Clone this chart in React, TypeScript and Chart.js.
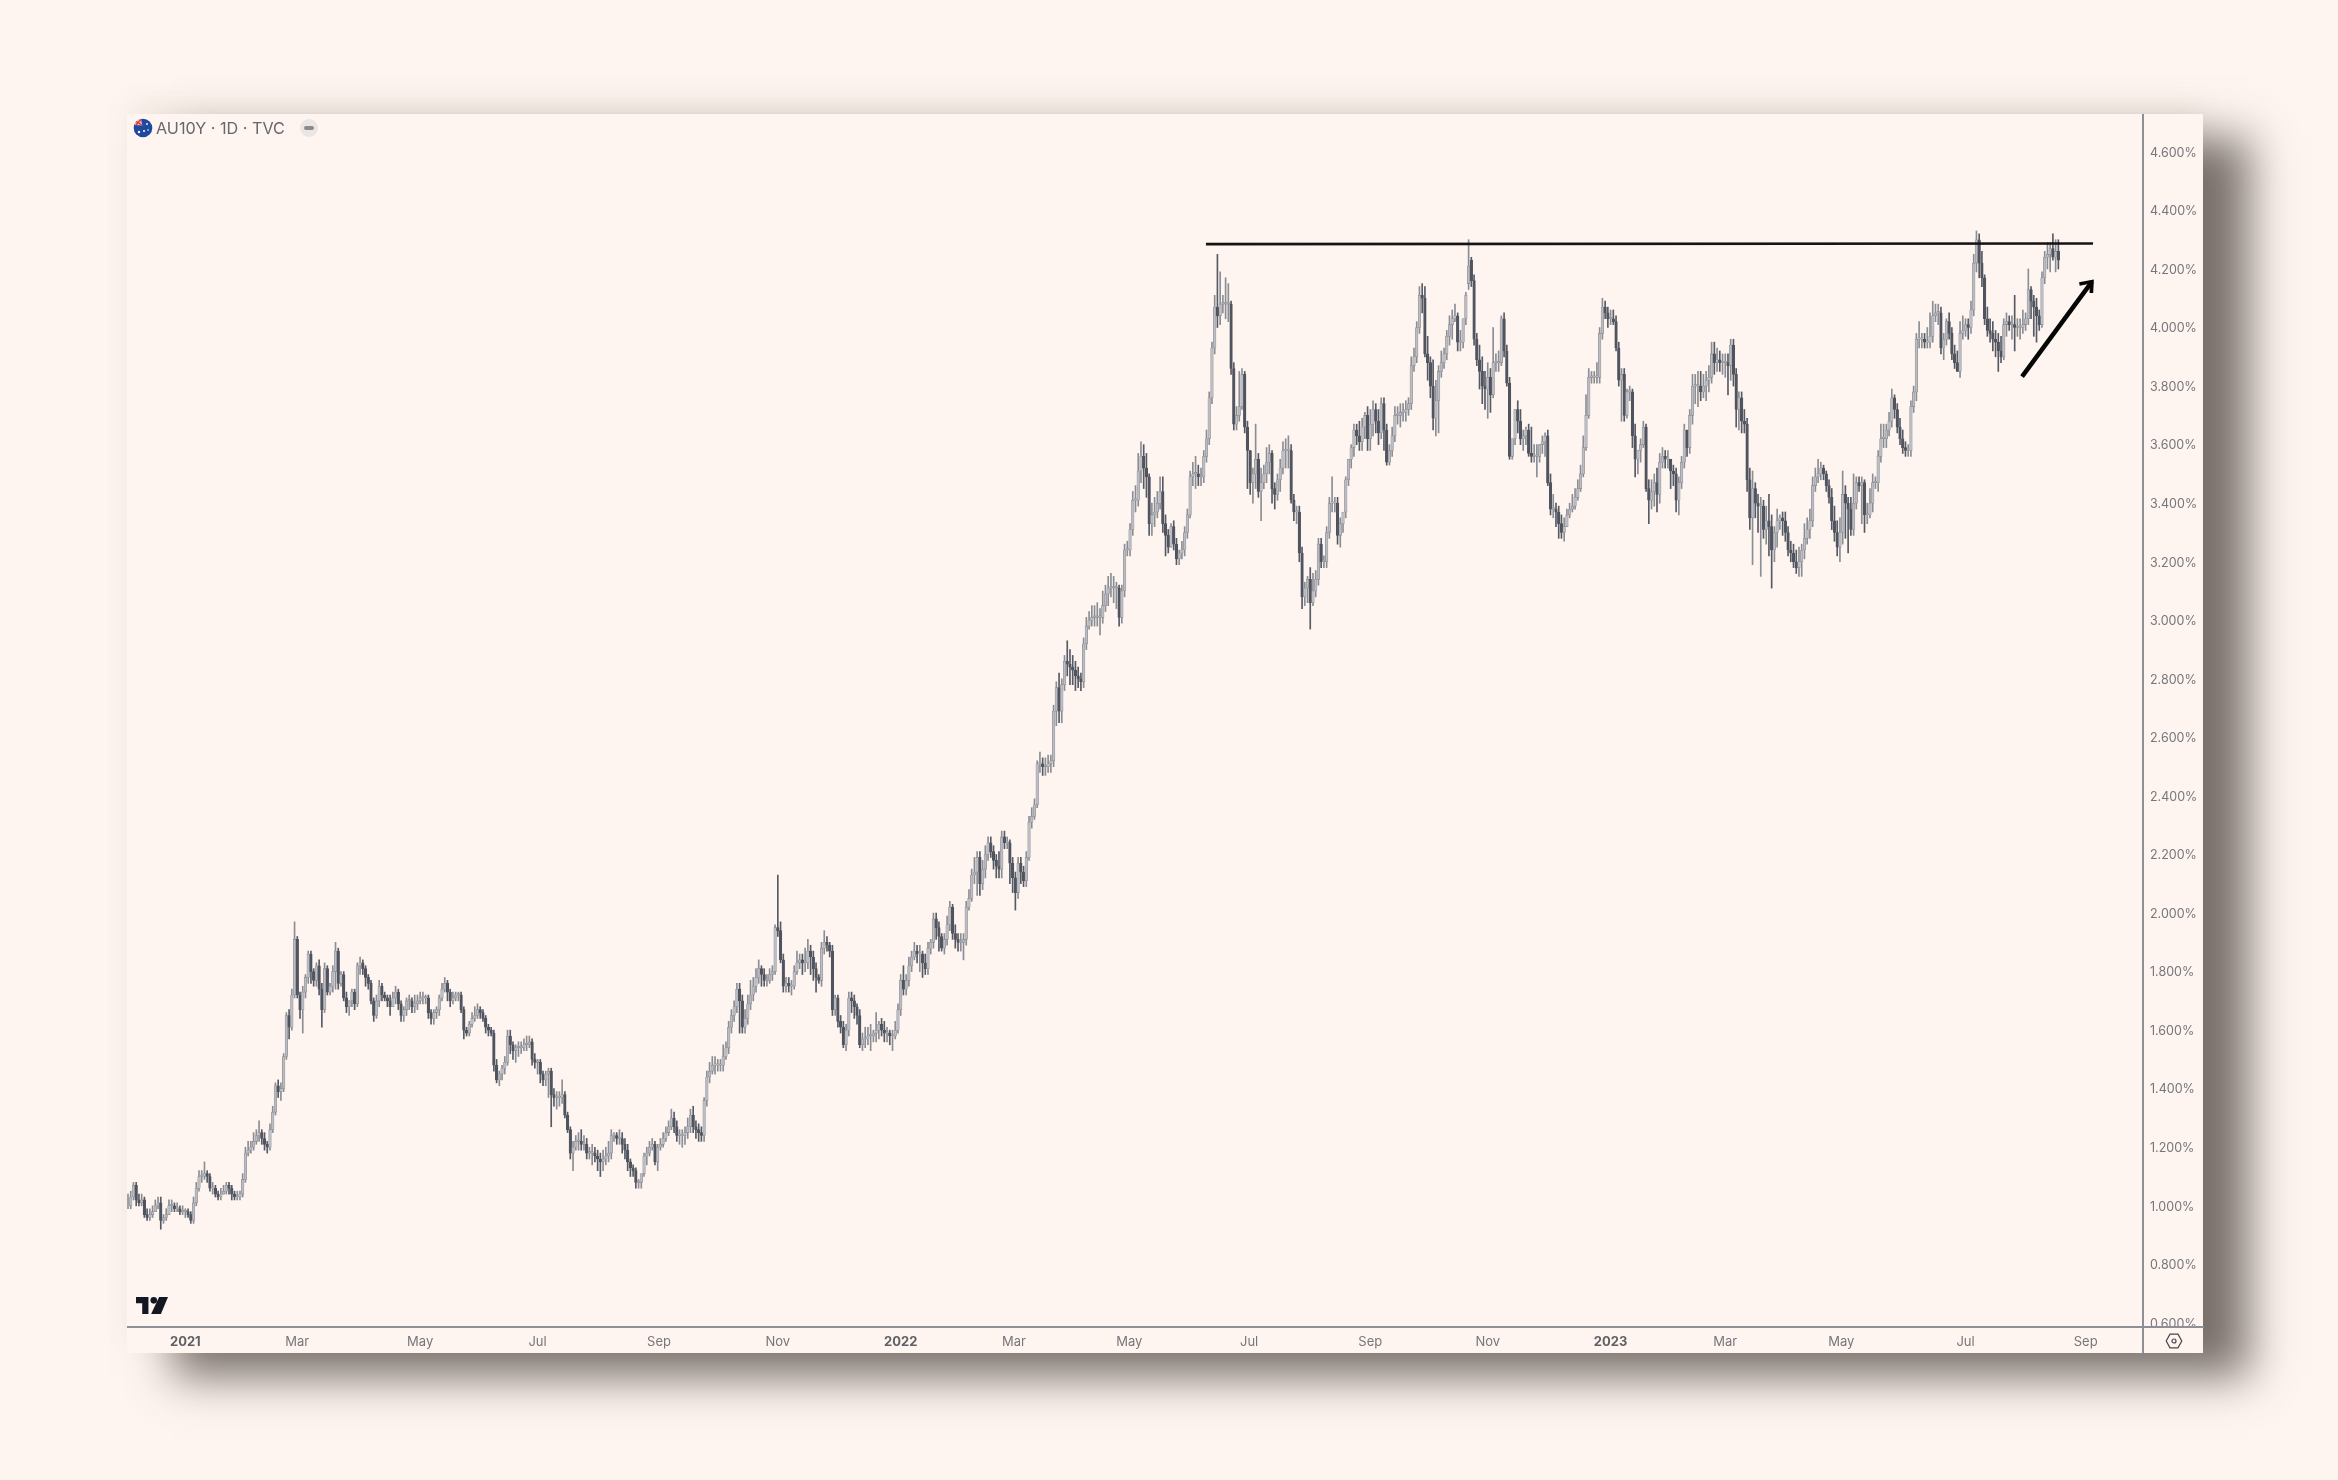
import { useEffect, useRef } from "react";
import { Chart, registerables } from "chart.js";

Chart.register(...registerables);

// AU10Y daily candles, in hundredths of a percent (100 = 1.00%)
const closes = [
100,103,107,102,101,102,97,96,97,98,100,101,95,96,97,100,100,99,99,98,
98,98,97,95,101,106,110,110,111,110,106,106,104,103,104,105,107,106,104,103,
103,104,109,118,119,120,122,124,125,123,121,120,126,132,141,139,140,151,165,161,
172,191,172,167,173,178,186,180,177,182,174,167,181,173,175,180,187,176,179,171,
168,170,173,169,182,183,181,178,176,170,165,170,175,172,171,170,168,171,173,169,
165,167,170,170,168,169,170,171,171,171,166,164,166,167,171,174,176,173,170,171,
172,172,167,160,159,162,164,165,167,166,164,161,160,159,148,143,145,147,149,158,
155,153,154,154,154,155,155,156,150,149,149,145,143,145,146,138,137,137,137,138,
131,126,118,120,122,122,121,121,118,118,118,117,116,115,116,117,118,124,124,123,
123,121,119,115,113,112,108,108,111,117,118,120,121,115,120,121,123,125,127,130,
127,124,124,124,125,127,131,127,126,125,124,136,144,146,148,148,148,148,151,154,
161,165,168,174,170,161,164,169,172,175,178,181,179,177,177,179,180,195,194,184,
175,176,175,175,180,183,184,183,183,187,185,181,178,177,188,190,189,187,167,171,
163,161,155,160,171,170,168,165,155,157,157,158,158,159,160,162,160,159,159,158,
158,160,167,177,174,177,182,185,187,186,186,183,181,188,190,198,195,192,188,191,
196,202,193,191,190,190,191,202,205,213,214,219,210,215,220,224,221,218,216,215,
226,224,224,217,212,207,217,214,211,219,231,233,237,251,251,250,250,251,252,269,
277,269,278,286,285,284,283,281,280,279,292,298,300,301,301,301,301,305,309,311,
311,311,311,301,310,324,324,331,341,341,351,356,352,349,333,336,337,340,344,333,
329,325,332,326,321,323,324,330,336,349,350,350,349,349,356,362,376,393,407,404,
408,408,408,408,386,367,370,373,384,366,358,347,350,355,344,347,350,354,357,345,
343,348,352,358,358,358,341,337,337,323,308,311,314,306,310,314,326,320,320,330,
340,340,340,329,333,337,348,355,359,365,363,361,366,370,362,367,372,368,364,374,
365,354,358,363,370,370,371,371,372,374,387,390,400,411,410,391,388,380,369,375,
385,388,391,397,401,403,404,395,395,403,411,421,416,396,389,385,380,379,383,377,
388,388,388,403,392,381,356,362,372,368,362,363,365,357,356,356,356,360,361,363,
347,338,338,337,333,330,332,336,338,339,342,345,350,359,370,383,383,383,383,398,
407,405,403,403,402,393,382,384,370,378,378,363,355,358,360,366,345,341,344,347,
343,354,356,355,355,351,350,341,347,354,365,359,370,380,380,380,378,380,382,383,
391,388,389,388,388,388,387,394,384,372,376,368,367,348,335,345,340,339,339,331,
334,332,324,330,334,335,334,330,324,323,320,318,320,324,328,331,334,346,349,350,
352,350,346,342,334,330,325,330,343,340,338,331,340,347,346,347,336,336,340,347,
347,356,362,362,365,368,376,372,366,362,359,358,358,373,378,396,396,396,395,395,
397,404,405,405,393,396,402,398,391,388,385,398,399,401,400,406,422,430,422,417,
403,399,398,396,395,392,390,401,402,401,401,400,400,400,401,403,413,409,407,404,
401,417,424,425,427,424,426,423,
];
const opens = [
100,100,103,107,102,101,102,97,96,97,98,100,101,95,96,97,100,100,99,99,
98,98,98,97,95,101,106,110,110,111,110,106,106,104,103,104,105,107,106,104,
103,103,104,109,118,119,120,122,124,125,123,121,120,126,132,141,139,140,151,165,
161,172,191,172,167,173,178,186,180,177,182,174,167,181,173,175,180,187,176,179,
171,168,170,173,169,182,183,181,178,176,170,165,170,175,172,171,170,168,171,173,
169,165,167,170,170,168,169,170,171,171,171,166,164,166,167,171,174,176,173,170,
171,172,172,167,160,159,162,164,165,167,166,164,161,160,159,148,143,145,147,149,
158,155,153,154,154,154,155,155,156,150,149,149,145,143,145,146,138,137,137,137,
138,131,126,118,120,122,122,121,121,118,118,118,117,116,115,116,117,118,124,124,
123,123,121,119,115,113,112,108,108,111,117,118,120,121,115,120,121,123,125,127,
130,127,124,124,124,125,127,131,127,126,125,124,136,144,146,148,148,148,148,151,
154,161,165,168,174,170,161,164,169,172,175,178,181,179,177,177,179,180,195,194,
184,175,176,175,175,180,183,184,183,183,187,185,181,178,177,188,190,189,187,167,
171,163,161,155,160,171,170,168,165,155,157,157,158,158,159,160,162,160,159,159,
158,158,160,167,177,174,177,182,185,187,186,186,183,181,188,190,198,195,192,188,
191,196,202,193,191,190,190,191,202,205,213,214,219,210,215,220,224,221,218,216,
215,226,224,224,217,212,207,217,214,211,219,231,233,237,251,251,250,250,251,252,
269,277,269,278,286,285,284,283,281,280,279,292,298,300,301,301,301,301,305,309,
311,311,311,311,301,310,324,324,331,341,341,351,356,352,349,333,336,337,340,344,
333,329,325,332,326,321,323,324,330,336,349,350,350,349,349,356,362,376,393,407,
404,408,408,408,408,386,367,370,373,384,366,358,347,350,355,344,347,350,354,357,
345,343,348,352,358,358,358,341,337,337,323,308,311,314,306,310,314,326,320,320,
330,340,340,340,329,333,337,348,355,359,365,363,361,366,370,362,367,372,368,364,
374,365,354,358,363,370,370,371,371,372,374,387,390,400,411,410,391,388,380,369,
375,385,388,391,397,401,403,404,395,395,403,415,423,416,396,389,385,380,379,383,
377,388,388,388,403,392,381,356,362,372,368,362,363,365,357,356,356,356,360,361,
363,347,338,338,337,333,330,332,336,338,339,342,345,350,359,370,383,383,383,383,
398,407,405,403,403,402,393,382,384,370,378,378,363,355,358,360,366,345,341,344,
347,343,354,356,355,355,351,350,341,347,354,365,359,370,380,380,380,378,380,382,
383,391,388,389,388,388,388,387,394,384,372,376,368,367,348,335,345,340,339,339,
331,334,332,324,330,334,335,334,330,324,323,320,318,320,324,328,331,334,346,349,
350,352,350,346,342,334,330,325,330,343,340,338,331,340,347,346,347,336,336,340,
347,347,356,362,362,365,368,376,372,366,362,359,358,358,373,378,396,396,396,395,
395,397,404,405,405,393,396,402,398,391,388,385,398,399,401,400,406,422,430,422,
417,403,399,398,396,395,392,390,401,402,401,401,400,400,400,401,403,413,409,407,
404,401,417,424,425,427,424,426,
];
const highs = [
104,105,108,108,104,104,103,99,99,100,102,103,103,97,99,102,102,101,101,100,
100,99,99,98,103,108,112,112,115,112,111,108,107,105,106,107,108,108,107,105,
105,105,111,120,122,122,125,126,129,126,125,122,128,134,142,143,142,152,166,167,
174,197,192,173,175,179,187,187,181,183,184,176,183,182,176,182,190,188,180,180,
173,170,174,174,183,185,184,182,179,177,171,172,177,176,173,172,172,173,175,174,
170,168,171,172,171,172,172,173,173,172,172,167,167,168,172,176,178,177,174,173,
173,173,173,168,161,163,166,168,169,168,167,165,162,161,160,150,146,148,151,160,
160,156,155,156,156,157,158,158,157,152,150,150,146,146,147,147,140,139,139,143,
139,132,127,122,124,125,126,124,123,120,121,120,119,118,119,120,122,126,125,125,
126,125,123,121,116,114,113,109,110,118,120,122,123,122,121,123,125,127,129,133,
132,129,126,126,127,130,133,134,129,128,127,137,146,149,151,151,150,150,155,156,
163,167,170,176,176,172,167,172,177,178,181,184,182,181,179,181,182,196,213,197,
186,178,178,177,182,187,186,186,188,191,189,187,183,179,190,194,192,190,189,172,
172,165,163,162,173,173,172,169,167,159,161,161,162,160,166,163,164,163,161,160,
160,163,169,179,182,179,185,187,190,189,189,187,186,190,191,200,200,197,193,193,
199,204,203,196,193,193,193,204,208,215,219,221,221,218,223,226,226,223,220,221,
228,228,226,225,219,214,219,219,216,221,233,236,239,252,255,253,253,254,254,271,
279,282,280,288,293,290,288,286,284,282,294,301,303,305,305,306,304,310,312,315,
316,315,313,312,312,326,327,333,344,346,357,361,360,357,350,340,342,344,349,349,
336,331,333,334,328,324,327,332,338,351,354,356,353,352,358,365,378,395,411,425,
419,411,417,415,409,388,373,385,386,385,368,358,352,367,357,352,353,359,360,358,
347,350,355,361,362,363,360,343,339,339,325,313,315,318,316,317,328,328,322,332,
342,349,342,342,335,336,349,351,360,367,367,368,369,371,373,372,375,374,372,376,
376,367,360,366,373,373,374,374,375,376,390,393,402,414,415,414,397,390,389,382,
387,392,393,399,404,406,408,405,399,403,412,430,424,418,398,394,390,385,388,386,
400,391,392,404,405,394,383,362,372,375,372,365,366,367,366,360,360,360,363,364,
365,350,343,340,339,336,335,338,340,343,345,348,353,363,377,386,385,385,388,400,
410,409,407,406,406,404,395,386,386,379,380,379,367,358,362,368,367,348,348,350,
352,357,359,358,358,355,353,352,349,356,367,365,372,384,384,385,385,384,385,387,
395,395,393,392,391,391,391,396,396,386,378,378,372,369,352,351,347,343,342,341,
339,343,336,332,338,336,337,337,332,327,326,324,325,326,333,335,338,349,352,355,
354,353,351,348,345,339,334,335,351,346,342,342,350,349,349,349,348,340,345,350,
349,358,367,367,367,371,379,377,374,369,365,361,360,375,380,398,402,398,398,400,
405,409,408,408,407,398,403,405,400,394,392,402,404,403,403,409,425,433,432,426,
418,407,403,402,399,398,397,403,405,404,404,411,403,403,406,405,420,414,411,410,
406,419,426,429,429,432,430,430,
];
const lows = [
99,99,102,100,100,100,96,95,95,96,98,99,92,94,95,99,98,98,98,97,
97,96,96,94,94,100,105,108,109,108,105,104,103,102,102,104,104,104,102,102,
102,102,103,108,117,118,119,121,122,121,119,118,119,125,131,137,136,139,150,157,
160,171,171,164,159,171,176,176,175,175,172,161,166,172,172,173,174,174,175,170,
166,165,168,167,168,179,179,175,174,169,163,164,168,170,170,168,165,168,169,167,
163,163,165,167,166,166,167,169,169,169,164,162,162,164,165,170,173,170,168,169,
170,170,166,157,158,158,161,163,164,164,163,159,158,158,146,142,141,143,145,148,
152,150,149,151,152,153,153,154,148,147,145,142,141,141,137,127,134,133,134,135,
130,125,116,112,119,119,119,119,116,116,114,115,112,110,112,114,115,116,122,121,
121,118,116,112,110,110,106,106,106,110,114,117,119,114,112,119,120,122,124,126,
125,122,121,120,121,123,125,125,123,122,122,122,134,142,145,145,146,146,146,150,
152,159,163,166,159,159,159,162,167,170,173,176,175,175,175,176,177,179,192,183,
173,173,173,172,174,179,181,179,180,181,179,177,173,176,175,186,187,185,165,165,
161,159,154,153,158,166,164,162,154,153,154,155,153,156,156,157,158,156,156,155,
153,157,159,165,172,172,175,180,184,183,180,178,179,179,186,188,191,187,187,186,
189,194,191,188,187,187,184,189,201,204,210,206,206,208,212,218,219,215,212,212,
212,222,222,210,207,201,205,210,209,209,218,229,232,236,248,247,247,248,248,250,
264,265,265,276,281,278,278,276,277,276,277,290,297,298,298,298,295,299,303,305,
308,306,304,298,299,308,322,322,329,337,339,347,345,342,329,329,332,335,338,330,
322,323,325,324,319,319,321,322,328,335,346,345,346,346,347,354,360,374,391,400,
401,405,403,402,384,365,365,368,372,364,345,343,340,345,342,334,345,347,350,340,
338,341,344,350,352,352,340,334,333,320,304,305,306,297,305,308,312,318,318,318,
328,337,337,326,325,330,335,346,352,356,360,358,358,362,358,358,363,364,360,362,
358,353,353,356,361,367,366,368,368,370,372,385,388,398,405,390,382,376,365,363,
364,383,386,389,394,396,402,392,392,393,401,413,414,394,387,379,374,372,369,371,
376,385,385,387,390,380,355,355,360,364,360,358,360,356,354,354,349,354,357,356,
346,336,335,332,328,328,327,333,335,337,338,341,344,349,358,369,381,381,381,381,
396,403,400,401,401,392,380,368,368,369,375,359,349,350,354,359,344,333,338,339,
337,340,352,352,352,345,346,337,336,345,352,356,357,367,374,373,375,376,375,378,
381,384,385,385,384,383,377,382,380,366,365,364,364,344,331,319,335,330,315,328,
326,322,311,320,325,331,329,327,322,320,318,316,315,315,321,326,328,332,344,347,
348,348,344,340,331,327,322,320,326,328,323,329,329,338,344,333,330,333,335,337,
345,344,354,359,359,363,366,369,364,360,357,356,356,356,371,375,393,393,393,393,
393,395,402,401,391,389,394,396,389,386,385,383,396,397,396,398,404,419,417,414,
401,397,395,392,390,385,388,389,397,399,396,392,397,396,398,399,401,403,397,395,
399,400,415,420,419,423,419,420,
];
const yTicks = [0.6, 0.8, 1, 1.2, 1.4, 1.6, 1.8, 2, 2.2, 2.4, 2.6, 2.8, 3, 3.2, 3.4, 3.6, 3.8, 4, 4.2, 4.4, 4.6];
const xTickLabels = ["2021", "Mar", "May", "Jul", "Sep", "Nov", "2022", "Mar", "May", "Jul", "Sep", "Nov", "2023", "Mar", "May", "Jul", "Sep"];
const xTickBars = [21, 62, 107, 150, 194.5, 238, 283, 324.5, 366.7, 410.6, 455, 498, 543, 585, 627.5, 673, 717];
const resistanceX = [394.8, 719.7];
const resistanceY = [4.285, 4.287];
const arrowShaftX = [693.7, 719.3];
const arrowShaftY = [3.8325, 4.157];
const arrowHeadX = [714.7, 719.3, 719.1];
const arrowHeadY = [4.149, 4.157, 4.118];

const PAGE = "#fef5f0";
const TICK = "#76767c";
const AXIS = "#8f9097";

export default function App() {
  const ref = useRef<HTMLCanvasElement>(null);
  useEffect(() => {
    document.body.style.margin = "0";
    document.body.style.background = PAGE;
    const n = Math.min(closes.length, opens.length, highs.length, lows.length);
    const idx = Array.from({ length: n }, (_, i) => i);
    const isUp = (i: number) => closes[i] >= opens[i];
    const coverPlugin = {
      id: "cover",
      afterDraw(c: any) {
        const g = c.ctx;
        const a = c.chartArea;
        g.save();
        g.fillStyle = PAGE;
        g.fillRect(a.right + 1, a.bottom, 2203 - a.right - 1, 26);
        g.strokeStyle = AXIS;
        g.lineWidth = 2;
        g.beginPath();
        g.moveTo(127, a.bottom);
        g.lineTo(2204, a.bottom);
        g.moveTo(a.right, 114);
        g.lineTo(a.right, 1353);
        g.stroke();
        g.restore();
      },
    };
    const chart = new Chart(ref.current!, {
      type: "bar",
      data: {
        datasets: [
          {
            type: "line",
            data: resistanceX.map((x, i) => ({ x, y: resistanceY[i] })),
            borderColor: "#141414",
            borderWidth: 2.6,
            pointRadius: 0,
            order: 0,
          },
          {
            type: "line",
            data: arrowShaftX.map((x, i) => ({ x, y: arrowShaftY[i] })),
            borderColor: "#050505",
            borderWidth: 4.5,
            pointRadius: 0,
            order: 0,
          },
          {
            type: "line",
            data: arrowHeadX.map((x, i) => ({ x, y: arrowHeadY[i] })),
            borderColor: "#050505",
            borderWidth: 3.6,
            pointRadius: 0,
            order: 0,
          },
          {
            type: "bar",
            grouped: false,
            barThickness: 2.6,
            data: idx.map((i) => ({
              x: i,
              y: [opens[i] / 100, (closes[i] === opens[i] ? closes[i] + 0.5 : closes[i]) / 100],
            })),
            backgroundColor: idx.map((i) => (isUp(i) ? "#bcbdc2" : "#50545f")),
            borderColor: idx.map((i) => (isUp(i) ? "#8b8d94" : "#50545f")),
            borderWidth: 0.6,
            borderSkipped: false,
            order: 1,
          },
          {
            type: "bar",
            grouped: false,
            barThickness: 1,
            data: idx.map((i) => ({ x: i, y: [lows[i] / 100, highs[i] / 100] })),
            backgroundColor: idx.map((i) => (isUp(i) ? "#8b8d94" : "#565a65")),
            order: 2,
          },
        ],
      } as any,
      options: {
        animation: false,
        responsive: false,
        events: [],
        layout: { padding: { left: 127, top: 115, right: 135, bottom: 127 } },
        plugins: { legend: { display: false }, tooltip: { enabled: false } },
        scales: {
          x: {
            type: "linear",
            offset: false,
            min: -0.37,
            max: 738,
            grid: { display: false, drawTicks: false, offset: false },
            border: { display: false },
            afterFit: (s: any) => {
              s.height = 26;
            },
            afterBuildTicks: (s: any) => {
              s.ticks = xTickBars.map((value) => ({ value }));
            },
            ticks: {
              autoSkip: false,
              maxRotation: 0,
              padding: 7,
              color: (ctx: any) => (/^20/.test(ctx.tick.label) ? "#5f5f66" : TICK),
              font: (ctx: any) => ({
                family: "Inter",
                size: 13,
                weight: /^20/.test(ctx.tick?.label ?? "") ? "bold" : "normal",
              }),
              callback: (_v: any, i: number) => xTickLabels[i],
            },
          },
          y: {
            position: "right",
            min: 0.586,
            max: 4.726,
            grid: { display: false, drawTicks: false },
            border: { display: false },
            afterFit: (s: any) => {
              s.width = 60;
            },
            afterBuildTicks: (s: any) => {
              s.ticks = yTicks.map((value) => ({ value }));
            },
            ticks: {
              autoSkip: false,
              padding: 7,
              labelOffset: 1,
              color: TICK,
              font: { family: "Inter", size: 12.5 },
              callback: (v: any) => `${Number(v).toFixed(3)}%`,
            },
          },
        },
      } as any,
      plugins: [coverPlugin],
    });
    return () => chart.destroy();
  }, []);

  return (
    <div style={{ position: "absolute", left: 0, top: 0, width: 2338, height: 1480, background: PAGE, overflow: "hidden" }}>
      <div
        style={{
          position: "absolute",
          left: 127,
          top: 114,
          width: 2076,
          height: 1239,
          background: PAGE,
          boxShadow: "46px 24px 42px rgba(70,62,58,0.72), 0 -12px 26px rgba(120,100,90,0.07)",
        }}
      />
      <canvas ref={ref} width={2338} height={1480} style={{ position: "absolute", left: 0, top: 0, display: "block" }} />
      <svg width={20} height={20} viewBox="0 0 20 20" style={{ position: "absolute", left: 133, top: 118 }}>
        <circle cx={10} cy={10} r={9.3} fill="#1d4a9e" />
        <path d="M1.5 7A9.3 9.3 0 0 1 8 1l1.5 6.5z" fill="#e9b6b4" />
        <path d="M3 3.5L9 7M8 1.5L3 7" stroke="#d9343a" strokeWidth={1.2} />
        <circle cx={14} cy={6} r={0.9} fill="#fff" />
        <circle cx={11} cy={13} r={1} fill="#fff" />
        <circle cx={15} cy={12} r={0.8} fill="#fff" />
        <circle cx={6} cy={14} r={1.2} fill="#fff" />
      </svg>
      <div style={{ position: "absolute", left: 156, top: 118, font: "16.2px Inter", lineHeight: "21px", color: "#66666c", whiteSpace: "pre" }}>
        AU10Y · 1D · TVC
      </div>
      <div style={{ position: "absolute", left: 300, top: 119, width: 18, height: 18, borderRadius: 9, background: "#e9e6e3" }}>
        <div style={{ position: "absolute", left: 4, top: 7, width: 10, height: 4, borderRadius: 2, background: "#8b8b8f" }} />
      </div>
      <svg width={32} height={17} viewBox="0 0 36 19" style={{ position: "absolute", left: 136, top: 1297 }}>
        <path d="M0 0H14V19H7V7H0z" fill="#131722" />
        <circle cx={20} cy={3.7} r={3.7} fill="#131722" />
        <path d="M26 0H36L28 19H17z" fill="#131722" />
      </svg>
      <svg width={18} height={16} viewBox="0 0 18 16" style={{ position: "absolute", left: 2165, top: 1333 }}>
        <path d="M5 1.2H13L16.8 8L13 14.8H5L1.2 8z" fill="none" stroke="#45454b" strokeWidth={1.2} />
        <circle cx={9} cy={8} r={2} fill="none" stroke="#45454b" strokeWidth={1.2} />
      </svg>
    </div>
  );
}
